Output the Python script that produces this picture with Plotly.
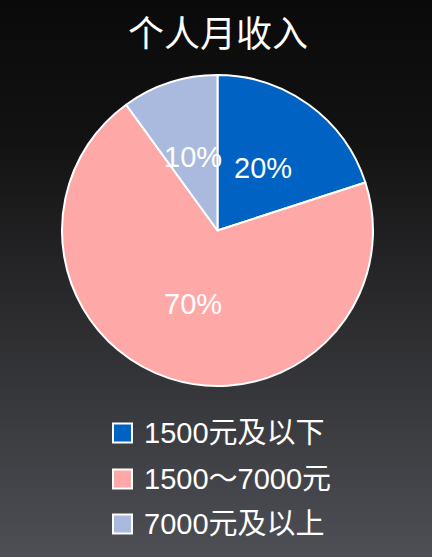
import base64
import math
import plotly.graph_objects as go

# data
labels = ['1500元及以下', '1500～7000元', '7000元及以上']
values = [20, 70, 10]
colors = ['#0062C2', '#FFA8A8', '#AABADE']
title_text = '个人月收入'

W, H = 432, 557
cx, cy, r = 217.5, 230.5, 155.5  # pie centre / radius in px

# dark vertical gradient background as inline svg
svg = ('<svg xmlns="http://www.w3.org/2000/svg" width="432" height="557">'
       '<defs><linearGradient id="g" x1="0" y1="0" x2="0" y2="1">'
       '<stop offset="0" stop-color="#0a0a0a"/>'
       '<stop offset="0.25" stop-color="#121212"/>'
       '<stop offset="1" stop-color="#4e4f55"/>'
       '</linearGradient></defs>'
       '<rect width="432" height="557" fill="url(#g)"/></svg>')
bg_src = 'data:image/svg+xml;base64,' + base64.b64encode(svg.encode()).decode()

fig = go.Figure()
fig.add_trace(go.Pie(
    labels=labels,
    values=values,
    sort=False,
    direction='clockwise',
    rotation=0,
    marker=dict(colors=colors, line=dict(color='white', width=2)),
    textinfo='none',
    hoverinfo='label+percent',
    showlegend=False,
    domain=dict(x=[(cx - r) / W, (cx + r) / W],
                y=[1 - (cy + r) / H, 1 - (cy - r) / H]),
))

# percent labels at half radius along each slice's mid-angle
total = sum(values)
start = 0.0
annotations = []
for v in values:
    mid = (start + v / 2) / total * 2 * math.pi
    start += v
    px = cx + 0.5 * r * math.sin(mid)
    py = cy - 0.5 * r * math.cos(mid)
    annotations.append(dict(
        x=px / W, y=1 - py / H, xref='paper', yref='paper',
        text=f'{round(v / total * 100)}%', showarrow=False,
        font=dict(family='Liberation Sans, Arial', size=29, color='white'),
        xanchor='center', yanchor='middle'))

# hand-drawn legend
shapes = []
row_y = [433, 479, 524]
for lab, col, ry in zip(labels, colors, row_y):
    shapes.append(dict(type='rect', xref='paper', yref='paper',
                       x0=113 / W, x1=132 / W,
                       y0=1 - (ry + 9.5) / H, y1=1 - (ry - 9.5) / H,
                       fillcolor=col, line=dict(color='white', width=2)))
    annotations.append(dict(
        x=142 / W, y=1 - ry / H, xref='paper', yref='paper',
        text=lab, showarrow=False, xanchor='left', yanchor='middle',
        font=dict(family='Liberation Sans, Noto Sans CJK SC', size=29, color='white')))

annotations.append(dict(
    x=217.5 / W, y=1 - 31 / H, xref='paper', yref='paper', text=title_text,
    showarrow=False, xanchor='center', yanchor='middle',
    font=dict(family='Noto Sans CJK SC', size=36, color='white')))

fig.update_layout(
    width=W, height=H,
    margin=dict(l=0, r=0, t=0, b=0),
    paper_bgcolor='#1e1e20',
    plot_bgcolor='rgba(0,0,0,0)',
    images=[dict(source=bg_src, xref='paper', yref='paper', x=0, y=1,
                 sizex=1, sizey=1, sizing='stretch', layer='below',
                 xanchor='left', yanchor='top')],
    shapes=shapes,
    annotations=annotations,
)

fig.write_html('out.html', config={'displayModeBar': False},
               post_script="document.body.style.margin='0';document.body.style.overflow='hidden';")
